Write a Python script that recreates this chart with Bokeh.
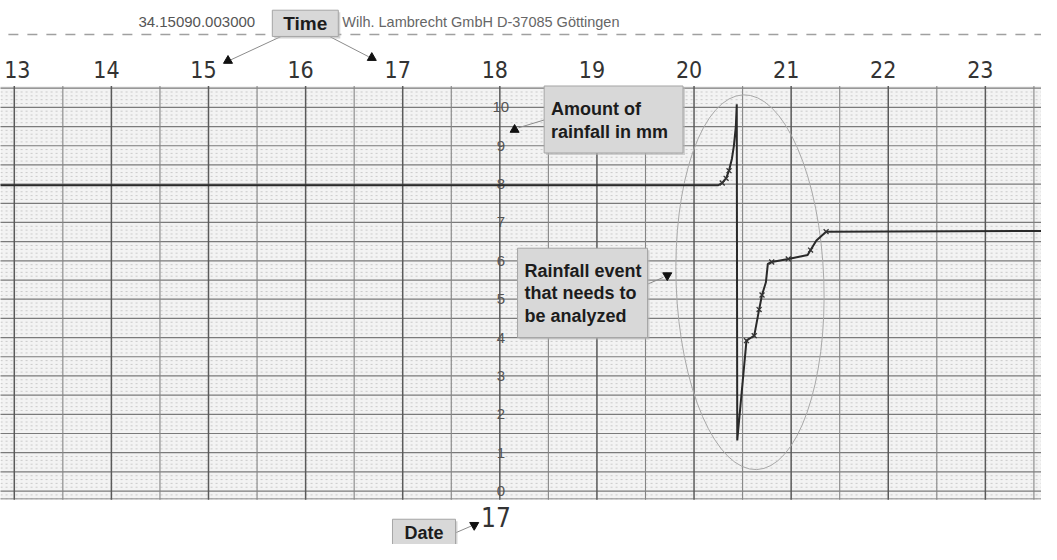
import numpy as np
from bokeh.plotting import figure
from bokeh.models import Range1d
from bokeh.core.properties import value
from bokeh.embed import file_html
from bokeh.resources import INLINE

# ---------------- data ----------------
hours = [13, 14, 15, 16, 17, 18, 19, 20, 21, 22, 23]
hour_labels = [str(h) for h in hours]
mm_values = [0, 1, 2, 3, 4, 5, 6, 7, 8, 9, 10]
mm_labels = [str(v) for v in mm_values]

trace_time = [12.80, 20.25, 20.29, 20.33, 20.36, 20.39, 20.41, 20.43, 20.44,
              20.445, 20.54, 20.57, 20.62, 20.67, 20.70, 20.74, 20.76, 20.80,
              20.97, 21.17, 21.20, 21.26, 21.36, 23.70]
trace_mm = [7.97, 7.97, 8.03, 8.15, 8.35, 8.66, 8.99, 9.49, 10.08,
            1.32, 3.92, 3.97, 4.05, 4.73, 5.11, 5.44, 5.92, 5.97,
            6.05, 6.15, 6.28, 6.53, 6.76, 6.78]

mark_time = [20.29, 20.33, 20.36, 20.54, 20.62, 20.67, 20.70, 20.80, 20.97, 21.20, 21.36]
mark_mm = [8.03, 8.15, 8.35, 3.92, 4.05, 4.73, 5.11, 5.97, 6.05, 6.28, 6.76]

date_label = "17"
header_code = "34.15090.003000"
header_maker = "Wilh. Lambrecht GmbH D-37085 Göttingen"

# ---------------- layout helpers (reference pixel -> data) ----------------
PX_H = 98.6      # pixels per hour
X18 = 507.0      # x of 18 h
PX_MM = 39.5     # pixels per mm
Y0 = 505.0       # y of 0 mm
REF_W, REF_H = 1057, 560
W, H = 1041, 544
SX, SY = W / REF_W, H / REF_H


def X(px):
    return 18 + (px - X18) / PX_H


def Y(py):
    return (Y0 - py) / PX_MM


NARROW = value("'Liberation Sans Narrow', 'DejaVu Sans Condensed', 'Roboto Condensed', Roboto, sans-serif")
SANS = value("Liberation Sans")

p = figure(width=W, height=H, output_backend="svg", toolbar_location=None,
           x_range=Range1d(X(0), X(REF_W)), y_range=Range1d(Y(REF_H), Y(0)),
           x_axis_location=None, y_axis_location=None, min_border=0,
           outline_line_color=None, background_fill_color="white",
           border_fill_color="white")
p.grid.visible = False

# chart paper background
p.quad(left=[X(-5)], right=[X(1065)], bottom=[Y(514)], top=[Y(88)],
       fill_color="#f3f3f3", line_color=None)

# horizontal paper lines
minor_y = [v for v in np.round(np.arange(-0.2, 10.51, 0.1), 2) if abs(v * 2 - round(v * 2)) > 1e-6]
p.segment(x0=[X(-5)] * len(minor_y), x1=[X(1065)] * len(minor_y), y0=minor_y, y1=minor_y,
          line_color="#c0c0c0", line_width=0.8, line_dash="2 3")
major_y = list(np.arange(0, 10.51, 0.5))
p.segment(x0=[X(-5)] * len(major_y), x1=[X(1065)] * len(major_y), y0=major_y, y1=major_y,
          line_color="#7a7a7a", line_width=1.2)
p.segment(x0=[X(-5)], x1=[X(1065)], y0=[Y(513)], y1=[Y(513)], line_color="#909090", line_width=1)

# vertical paper lines
half_x = [h + 0.5 for h in range(12, 24)]
p.segment(x0=half_x, x1=half_x, y0=[Y(514)] * len(half_x), y1=[Y(88)] * len(half_x),
          line_color="#858585", line_width=1.1)
full_x = list(range(12, 25))
p.segment(x0=full_x, x1=full_x, y0=[Y(514)] * len(full_x), y1=[Y(88)] * len(full_x),
          line_color="#5a5a5a", line_width=1.5)

# mm scale along 18 h
p.text(x=[18] * len(mm_values), y=mm_values, text=mm_labels, x_offset=1,
       text_align="center", text_baseline="middle",
       text_font=SANS, text_font_size="15px", text_color="#555555")

# hour labels (first one nudged so that it stays inside the picture)
p.text(x=hours[:1], y=[Y(71)], text=hour_labels[:1], x_offset=3,
       text_align="center", text_baseline="middle",
       text_font=NARROW, text_font_size="23px", text_color="#333333")
p.text(x=hours[1:], y=[Y(71)] * (len(hours) - 1), text=hour_labels[1:], x_offset=-5,
       text_align="center", text_baseline="middle",
       text_font=NARROW, text_font_size="23px", text_color="#333333")

# header
p.line([X(8), X(1065)], [Y(35), Y(35)], line_color="#a0a0a0", line_width=1.4, line_dash="10 9")
p.text(x=[X(140)], y=[Y(22)], text=[header_code], text_align="left", text_baseline="middle",
       text_font=SANS, text_font_size="15px", text_color="#555555")
p.text(x=[X(347)], y=[Y(22)], text=[header_maker], text_align="left", text_baseline="middle",
       text_font=SANS, text_font_size="14.5px", text_color="#666666")

# ellipse around the event
p.ellipse(x=[X(761)], y=[Y(290)], width=150 * SX, height=386 * SY, width_units="screen",
          height_units="screen", angle=0.036, fill_color=None,
          line_color="#a9a9a9", line_width=1)

# recorder trace
p.line(trace_time, trace_mm, line_color="#2a2a2a", line_width=2)
p.scatter(mark_time, mark_mm, marker="x", size=7, line_color="#333333", line_width=1.3)

# ---------------- annotation boxes ----------------
sx, sy = 2 / PX_H, 2 / PX_MM


def box(x0, y0, x1, y1):
    p.quad(left=[X(x0) + sx], right=[X(x1) + sx], top=[Y(y0) - sy], bottom=[Y(y1) - sy],
           fill_color="#b5b5b5", fill_alpha=0.6, line_color=None)
    p.quad(left=[X(x0)], right=[X(x1)], top=[Y(y0)], bottom=[Y(y1)],
           fill_color="#d8d8d8", line_color="#a5a5a5", line_width=1)


def label(px, py, txt, align="left", size="18px"):
    p.text(x=[X(px)], y=[Y(py)], text=[txt], text_align=align, text_baseline="middle",
           text_font=SANS, text_font_style="bold",
           text_font_size=size, text_color="#1c1c1c")


def connector(ax, ay, bx, by):
    p.line([X(ax), X(bx)], [Y(ay), Y(by)], line_color="#8c8c8c", line_width=1)


connector(285, 37, 234, 61)
connector(334, 37, 374, 58)
connector(552, 123, 526, 131)
connector(657, 292, 673, 285)
connector(462, 548, 478, 541)

heads_up_x = [X(231), X(377), X(522)]
heads_up_y = [Y(62), Y(59), Y(133)]
p.scatter(heads_up_x, heads_up_y, marker="triangle", size=9, fill_color="#111111", line_color="#111111")
heads_dn_x = [X(677), X(481)]
heads_dn_y = [Y(283), Y(540)]
p.scatter(heads_dn_x, heads_dn_y, marker="inverted_triangle", size=9, fill_color="#111111", line_color="#111111")

box(276, 10, 343, 37)
label(309.5, 24, "Time", align="center", size="19px")

box(552, 88, 693, 157)
label(559, 112, "Amount of")
label(559, 135, "rainfall in mm")

box(525, 255, 657, 347)
label(532, 278, "Rainfall event")
label(532, 301, "that needs to")
label(532, 325, "be analyzed")

box(398, 534, 462, 575)
label(430, 548, "Date", align="center")

p.text(x=[X(503)], y=[Y(532)], text=[date_label], text_align="center", text_baseline="middle",
       text_font=NARROW, text_font_size="26px", text_color="#333333")

open("out.html", "w").write(file_html(p, INLINE))
